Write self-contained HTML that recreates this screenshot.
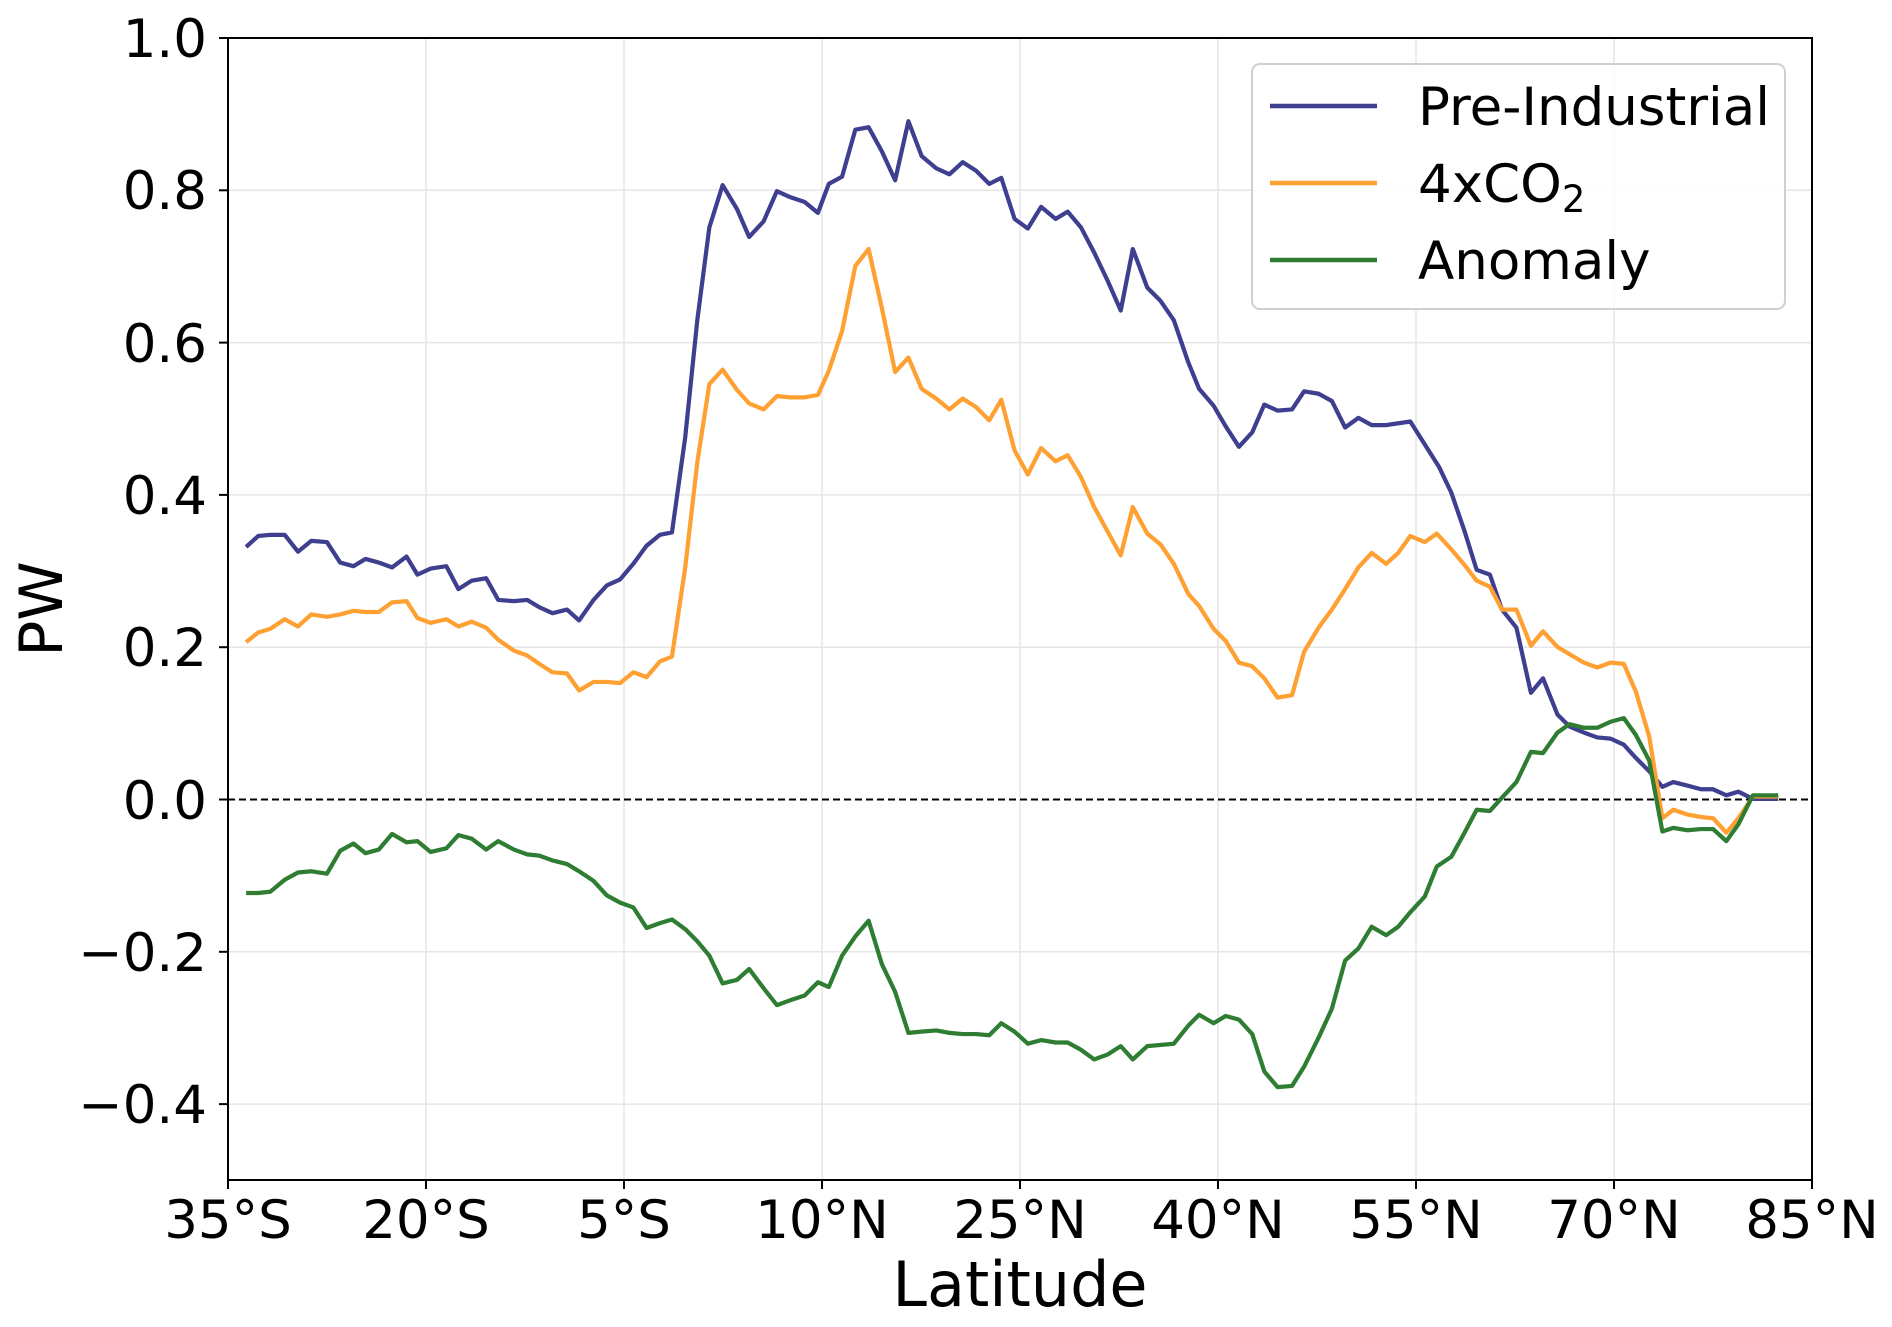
<!DOCTYPE html>
<html><head><meta charset="utf-8"><style>body{margin:0;background:#fff}svg{display:block}text{font-family:"DejaVu Sans","Liberation Sans",sans-serif;fill:#000}</style></head>
<body>
<svg width="1892" height="1327" viewBox="0 0 1892 1327" xmlns="http://www.w3.org/2000/svg">
<rect width="1892" height="1327" fill="#fff"/>
<g stroke="#e6e6e6" stroke-width="1.5">
<line x1="426" y1="38" x2="426" y2="1180"/><line x1="624" y1="38" x2="624" y2="1180"/><line x1="822" y1="38" x2="822" y2="1180"/><line x1="1020" y1="38" x2="1020" y2="1180"/><line x1="1218" y1="38" x2="1218" y2="1180"/><line x1="1416" y1="38" x2="1416" y2="1180"/><line x1="1614" y1="38" x2="1614" y2="1180"/>
<line x1="228" y1="190.3" x2="1812" y2="190.3"/><line x1="228" y1="342.6" x2="1812" y2="342.6"/><line x1="228" y1="494.9" x2="1812" y2="494.9"/><line x1="228" y1="647.2" x2="1812" y2="647.2"/><line x1="228" y1="951.8" x2="1812" y2="951.8"/><line x1="228" y1="1104.1" x2="1812" y2="1104.1"/>
</g>
<line x1="228" y1="799.5" x2="1812" y2="799.5" stroke="#000" stroke-width="2" stroke-dasharray="7,4"/>
<g transform="translate(228,38) scale(1.2064,1.2059) translate(-188,-31)" fill="none" stroke-width="3.5" stroke-linejoin="round">
<polyline stroke="#3f3f8f" points="203,453 213,444 223,443 235,443 246,457 257,448 270,449 281,466 292,469 302,463 313,466 324,470 336,461 345,476 356,471 369,469 379,488 390,481 402,479 412,497 425,498 436,497 446,503 457,508 469,505 479,514 491,497 502,485 513,480 524,467 535,452 546,443 556,441 567,362 577,265 587,188 598,153 610,173 620,196 632,183 643,158 654,163 666,167 677,176 686,152 697,146 708,107 719,105 730,125 741,149 752,100 763,129 775,139 786,144 797,134 808,141 819,152 829,147 840,181 851,189 862,171 874,181 884,175 895,188 906,209 917,232 928,257 938,206 950,238 961,249 972,265 984,300 993,322 1005,336 1015,353 1026,370 1037,358 1047,335 1058,340 1070,339 1080,324 1092,326 1103,332 1114,354 1125,346 1136,352 1148,352 1168,349 1180,368 1192,387 1202,408 1213,440 1223,472 1234,476 1244,505 1256,520 1268,574 1278,562 1290,592 1300,602 1312,607 1323,611 1334,612 1345,617 1355,628 1366,639 1377,652 1386,648 1398,651 1409,654 1419,654 1430,659 1440,656 1452,662 1473,662"/>
<polyline stroke="#ffa033" points="203,532 213,524 223,521 235,513 246,519 257,509 270,511 281,509 292,506 302,507 313,507 324,499 336,498 345,512 356,516 369,513 379,519 390,515 402,520 412,530 425,539 436,543 446,550 457,557 469,558 479,572 491,565 502,565 513,566 524,557 535,561 546,548 556,544 567,470 577,383 587,318 598,306 610,323 620,334 632,339 643,328 654,329 666,329 677,327 686,307 697,274 708,220 719,206 730,255 741,308 752,296 763,322 775,330 786,339 797,330 808,337 819,348 829,331 840,373 851,393 862,371 874,382 884,377 895,395 906,420 917,440 928,460 938,420 950,442 961,451 972,467 984,492 993,502 1005,521 1015,531 1026,549 1037,552 1047,562 1058,578 1070,576 1080,540 1092,520 1103,505 1114,488 1125,470 1136,458 1148,467 1158,458 1168,444 1180,449 1190,442 1202,455 1213,468 1223,481 1234,486 1244,505 1256,505 1268,535 1278,523 1290,536 1300,542 1312,549 1323,553 1334,549 1345,550 1355,573 1366,610 1377,678 1386,671 1398,675 1409,677 1419,678 1430,690 1440,678 1452,660 1473,660"/>
<polyline stroke="#2e7d32" points="203,740 213,740 223,739 235,729 246,723 257,722 270,724 281,705 292,699 302,707 313,704 324,691 336,698 345,697 356,706 369,703 379,692 390,695 402,704 412,697 425,704 436,708 446,709 457,713 469,716 479,722 491,730 502,742 513,748 524,752 535,769 546,765 556,762 567,770 577,780 587,792 598,815 610,812 620,803 632,819 643,833 654,829 666,825 677,814 686,818 697,792 708,776 719,763 730,799 741,822 752,856 763,855 775,854 786,856 797,857 808,857 819,858 829,848 840,855 851,865 862,862 874,864 884,864 895,870 906,878 917,874 928,867 938,878 950,867 961,866 972,865 984,850 993,841 1005,848 1015,842 1026,845 1037,857 1047,888 1058,901 1070,900 1080,884 1092,860 1103,836 1114,796 1125,786 1136,768 1148,775 1158,768 1168,756 1180,743 1190,718 1202,710 1213,690 1223,671 1234,672 1244,661 1256,648 1268,623 1278,624 1290,607 1300,600 1312,603 1323,603 1334,598 1345,595 1355,609 1366,630 1377,689 1386,686 1398,688 1409,687 1419,687 1430,697 1440,683 1452,659 1473,659"/>
</g>
<rect x="228" y="38" width="1584" height="1142" fill="none" stroke="#000" stroke-width="2"/>
<g stroke="#000" stroke-width="2">
<line x1="219" y1="38" x2="228" y2="38"/><line x1="219" y1="190.3" x2="228" y2="190.3"/><line x1="219" y1="342.6" x2="228" y2="342.6"/><line x1="219" y1="494.9" x2="228" y2="494.9"/><line x1="219" y1="647.2" x2="228" y2="647.2"/><line x1="219" y1="799.5" x2="228" y2="799.5"/><line x1="219" y1="951.8" x2="228" y2="951.8"/><line x1="219" y1="1104.1" x2="228" y2="1104.1"/>
<line x1="228" y1="1180" x2="228" y2="1189"/><line x1="426" y1="1180" x2="426" y2="1189"/><line x1="624" y1="1180" x2="624" y2="1189"/><line x1="822" y1="1180" x2="822" y2="1189"/><line x1="1020" y1="1180" x2="1020" y2="1189"/><line x1="1218" y1="1180" x2="1218" y2="1189"/><line x1="1416" y1="1180" x2="1416" y2="1189"/><line x1="1614" y1="1180" x2="1614" y2="1189"/><line x1="1812" y1="1180" x2="1812" y2="1189"/>
</g>
<g font-size="53" text-anchor="end">
<text x="207" y="57">1.0</text><text x="207" y="209">0.8</text><text x="207" y="362">0.6</text><text x="207" y="514">0.4</text><text x="207" y="666">0.2</text><text x="207" y="819">0.0</text><text x="207" y="971">−0.2</text><text x="207" y="1123">−0.4</text>
</g>
<g font-size="53" text-anchor="middle">
<text x="228" y="1238">35°S</text><text x="426" y="1238">20°S</text><text x="624" y="1238">5°S</text><text x="822" y="1238">10°N</text><text x="1020" y="1238">25°N</text><text x="1218" y="1238">40°N</text><text x="1416" y="1238">55°N</text><text x="1614" y="1238">70°N</text><text x="1812" y="1238">85°N</text>
</g>
<text x="1020" y="1306" font-size="62" text-anchor="middle">Latitude</text>
<text transform="translate(62,609) rotate(-90)" font-size="60" text-anchor="middle">PW</text>
<rect x="1252" y="64" width="533" height="245" rx="8" fill="#fff" fill-opacity="0.85" stroke="#d0d0d0" stroke-width="2"/>
<line x1="1270" y1="106" x2="1377" y2="106" stroke="#3f3f8f" stroke-width="4.5"/>
<line x1="1270" y1="183" x2="1377" y2="183" stroke="#ffa033" stroke-width="4.5"/>
<line x1="1270" y1="260" x2="1377" y2="260" stroke="#2e7d32" stroke-width="4.5"/>
<g font-size="53">
<text x="1418" y="125">Pre-Industrial</text>
<text x="1418" y="202">4xCO<tspan font-size="37" dy="10">2</tspan></text>
<text x="1418" y="279">Anomaly</text>
</g>
</svg>
</body></html>
